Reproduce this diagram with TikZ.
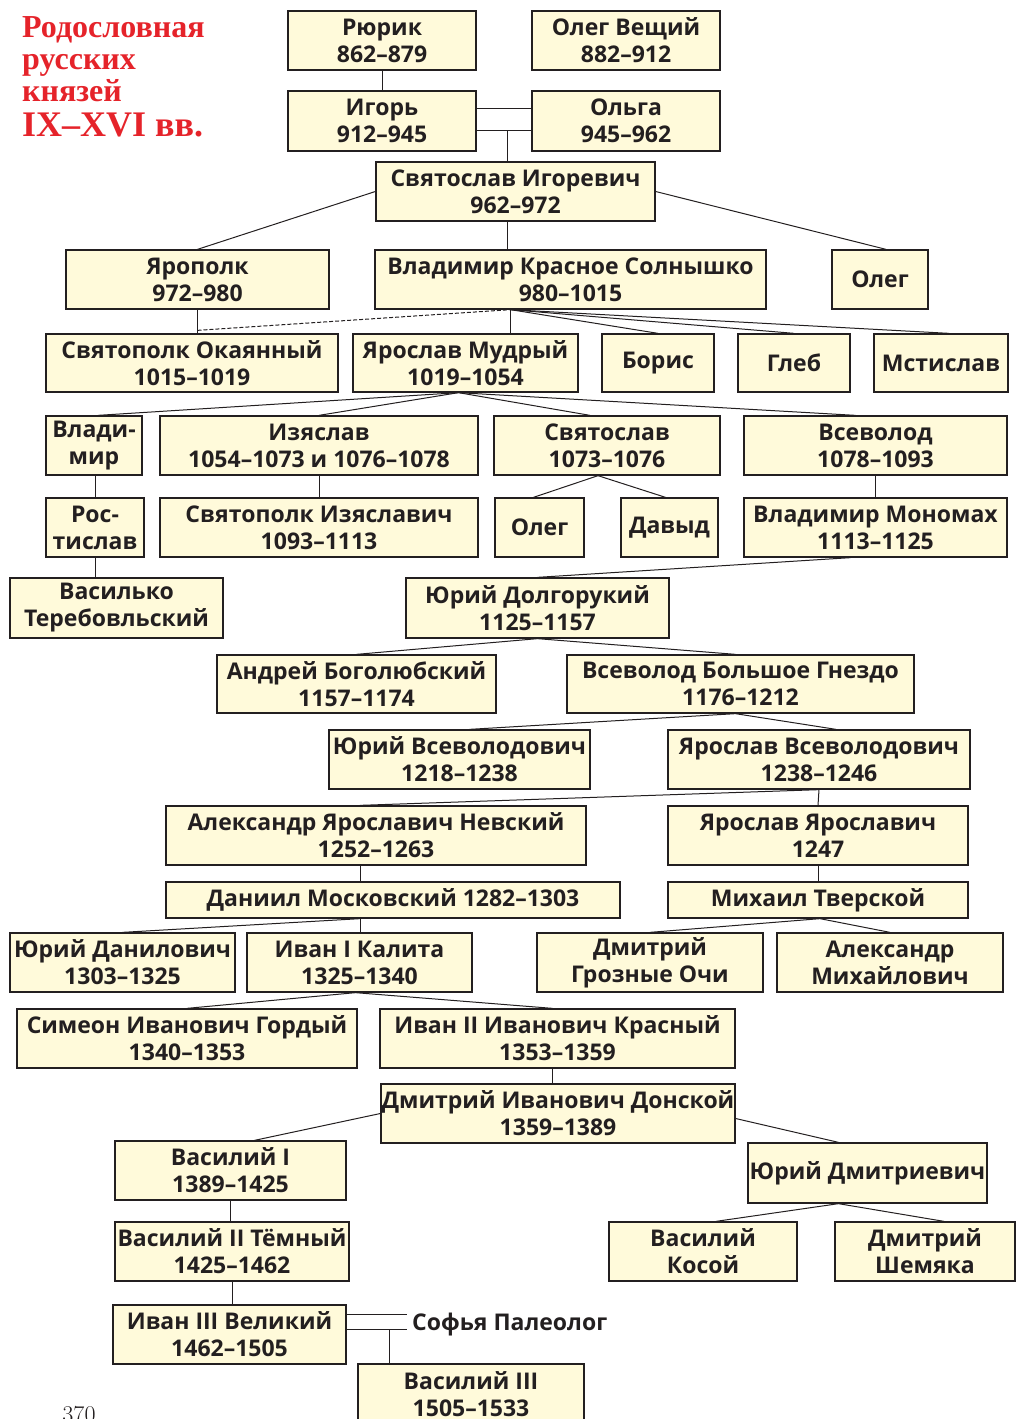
\documentclass[tikz,border=0pt]{standalone}
\usepackage{fontspec}
\setsansfont{Open Sans}
\newfontfamily\titlefont{Liberation Serif}
\usetikzlibrary{positioning,calc}

\definecolor{princefill}{RGB}{255,250,218}
\definecolor{titlered}{RGB}{229,35,42}
\definecolor{inkgray}{RGB}{35,31,32}

\begin{document}
\begin{tikzpicture}[
  x=1pt, y=-1pt,
  prince/.style={draw=inkgray, line width=1.3pt, fill=princefill, text=inkgray, align=center, inner sep=0pt,
    minimum height=59pt, font=\sffamily\bfseries\fontsize{23}{27}\selectfont},
  thin row/.style={minimum height=36pt},
  tie/.style={draw=inkgray, line width=1pt}
]
\useasboundingbox (0,0) rectangle (1016,1419);

% Title
\node[anchor=north west, align=left, text=titlered, inner sep=0pt,
  font=\titlefont\bfseries\fontsize{32}{32}\selectfont] (title) at (22,16)
  {Родословная\\русских\\князей\\[3pt]{\fontsize{36}{32}\selectfont IX–XVI вв.}};

% Rurik to Svjatoslav
\node[prince, minimum width=188pt] (rurik) at (382,40.5) {Рюрик\\862–879};
\node[prince, minimum width=188pt] (olegV) at (626,40.5) {Олег Вещий\\882–912};
\node[prince, minimum width=188pt, minimum height=60pt] (igor) at (382,121) {Игорь\\912–945};
\node[prince, minimum width=188pt, minimum height=60pt] (olga) at (626,121) {Ольга\\945–962};
\node[prince, minimum width=279pt] (svjatoslav) at (515.5,191.5) {Святослав Игоревич\\962–972};

% Sons of Svjatoslav
\node[prince, minimum width=263pt] (jaropolk) at (197.5,279.5) {Ярополк\\972–980};
\node[prince, minimum width=391pt] (vladimir) at (570.5,279.5) {Владимир Красное Солнышко\\980–1015};
\node[prince, minimum width=96pt] (olegS) at (880,279.5) {Олег};

% Sons of Vladimir
\node[prince, minimum width=292pt, minimum height=58pt] (svjatopolk) at (192,363) {Святополк Окаянный\\1015–1019};
\node[prince, minimum width=225pt, minimum height=58pt] (jaroslav) at (465.5,363) {Ярослав Мудрый\\1019–1054};
\node[prince, minimum width=112pt, minimum height=58pt] (boris) at (658,363) {Борис};
\node[prince, minimum width=112pt, minimum height=58pt] (gleb) at (794,363) {Глеб};
\node[prince, minimum width=134pt, minimum height=58pt] (mstislav) at (941,363) {Мстислав};

% Sons of Jaroslav
\node[prince, minimum width=96pt] (vladimirJ) at (94,445.5) {Влади-\\мир};
\node[prince, minimum width=318pt] (izjaslav) at (319,445.5) {Изяслав\\1054–1073 и 1076–1078};
\node[prince, minimum width=226pt] (svjatoslavJ) at (607,445.5) {Святослав\\1073–1076};
\node[prince, minimum width=263pt] (vsevolodJ) at (875.5,445.5) {Всеволод\\1078–1093};

\node[prince, minimum width=98pt] (rostislav) at (95,527.5) {Рос-\\тислав};
\node[prince, minimum width=318pt] (svjatopolkI) at (319,527.5) {Святополк Изяславич\\1093–1113};
\node[prince, minimum width=89pt] (olegSv) at (539.5,527.5) {Олег};
\node[prince, minimum width=97pt] (davyd) at (669.5,527.5) {Давыд};
\node[prince, minimum width=263pt] (monomakh) at (875.5,527.5) {Владимир Мономах\\1113–1125};

\node[prince, minimum width=213pt, minimum height=60pt] (vasilko) at (116.5,608) {Василько\\Теребовльский};
\node[prince, minimum width=263pt, minimum height=60pt] (dolgorukij) at (537.5,608) {Юрий Долгорукий\\1125–1157};

% Vladimir-Suzdal line
\node[prince, minimum width=279pt, minimum height=58pt] (andrej) at (356.5,684) {Андрей Боголюбский\\1157–1174};
\node[prince, minimum width=347pt, minimum height=58pt] (vsevolodBG) at (740.5,684) {Всеволод Большое Гнездо\\1176–1212};
\node[prince, minimum width=261pt] (jurijV) at (459.5,759.5) {Юрий Всеволодович\\1218–1238};
\node[prince, minimum width=302pt] (jaroslavV) at (819,759.5) {Ярослав Всеволодович\\1238–1246};
\node[prince, minimum width=420pt] (aleksandr) at (376,835.5) {Александр Ярославич Невский\\1252–1263};
\node[prince, minimum width=300pt] (jaroslavJ) at (818,835.5) {Ярослав Ярославич\\1247};
\node[prince, thin row, minimum width=454pt] (daniil) at (393,900) {Даниил Московский 1282–1303};
\node[prince, thin row, minimum width=300pt] (mikhail) at (818,900) {Михаил Тверской};

% Moscow and Tver
\node[prince, minimum width=225pt] (jurijD) at (122.5,962.5) {Юрий Данилович\\1303–1325};
\node[prince, minimum width=225pt] (ivan1) at (359.5,962.5) {Иван I Калита\\1325–1340};
\node[prince, minimum width=226pt] (dmitrijGO) at (650,962.5) {Дмитрий\\Грозные Очи};
\node[prince, minimum width=226pt] (aleksandrM) at (890,962.5) {Александр\\Михайлович};
\node[prince, minimum width=340pt] (simeon) at (187,1038.5) {Симеон Иванович Гордый\\1340–1353};
\node[prince, minimum width=355pt] (ivan2) at (557.5,1038.5) {Иван II Иванович Красный\\1353–1359};
\node[prince, minimum width=354pt] (donskoj) at (558,1113.5) {Дмитрий Иванович Донской\\1359–1389};

\node[prince, minimum width=231pt] (vasilij1) at (230.5,1170.5) {Василий I\\1389–1425};
\node[prince, minimum width=239pt, minimum height=60pt] (jurijDm) at (867.5,1173) {Юрий Дмитриевич};
\node[prince, minimum width=234pt] (vasilij2) at (232,1251.5) {Василий II Тёмный\\1425–1462};
\node[prince, minimum width=188pt] (kosoj) at (703,1251.5) {Василий\\Косой};
\node[prince, minimum width=180pt] (shemjaka) at (925,1251.5) {Дмитрий\\Шемяка};
\node[prince, minimum width=233pt] (ivan3) at (229.5,1334.5) {Иван III Великий\\1462–1505};
\node[anchor=west, inner sep=5pt, text=inkgray, font=\sffamily\bfseries\fontsize{23}{27}\selectfont]
  (sofia) at (407,1325) {Софья Палеолог};
\node[prince, minimum width=226pt, minimum height=60pt] (vasilij3) at (471,1394) {Василий III\\1505–1533};

% page number
\node[anchor=north, inner sep=0pt, font=\rmfamily\fontsize{24}{24}\selectfont, text=inkgray] (pagenum) at (79,1406) {370};

% Connectors
\draw[tie] (rurik) -- (igor);
\draw[tie] ([yshift=13pt]igor.east) -- ([yshift=13pt]olga.west);
\draw[tie] ([yshift=-9pt]igor.east) -- ([yshift=-9pt]olga.west);
\coordinate (wed1) at (507,130);
\draw[tie] (wed1) -- (wed1 |- svjatoslav.north);
\draw[tie] (svjatoslav.west) -- (jaropolk.north);
\draw[tie] (svjatoslav.east) -- ([xshift=6pt]olegS.north);
\draw[tie] (wed1 |- svjatoslav.south) -- (wed1 |- vladimir.north);

\coordinate (jaroB) at (jaropolk.south |- svjatopolk.north);
\coordinate (vladB) at ([xshift=-60pt]vladimir.south);
\draw[tie] (jaropolk.south) -- (jaroB);
\draw[tie, dashed, dash pattern=on 4pt off 2pt] ([yshift=3pt]jaroB) -- (vladB);
\draw[tie] (vladB) -- (vladB |- jaroslav.north);
\foreach \kid/\dx in {boris/0, gleb/0, mstislav/8}
  \draw[tie] (vladB) -- ([xshift=\dx pt]\kid.north);

\coordinate (jarB) at ([xshift=-7pt]jaroslav.south);
\foreach \kid/\dx in {vladimirJ/4, izjaslav/0, svjatoslavJ/-17, vsevolodJ/-20}
  \draw[tie] (jarB) -- ([xshift=\dx pt]\kid.north);

\draw[tie] (rostislav.north |- vladimirJ.south) -- (rostislav.north);
\draw[tie] (rostislav.south) -- (rostislav.south |- vasilko.north);
\draw[tie] (izjaslav) -- (svjatopolkI);
\draw[tie] ([xshift=-9pt]svjatoslavJ.south) -- ([xshift=-6pt]olegSv.north);
\draw[tie] ([xshift=-9pt]svjatoslavJ.south) -- ([xshift=-4pt]davyd.north);
\draw[tie] (vsevolodJ) -- (monomakh);
\draw[tie] ([xshift=-25pt]monomakh.south) -- (dolgorukij.north);

\draw[tie] (dolgorukij.south) -- (andrej.north);
\draw[tie] (dolgorukij.south) -- ([xshift=-5pt]vsevolodBG.north);
\draw[tie] ([xshift=-5pt]vsevolodBG.south) -- ([xshift=10pt]jurijV.north);
\draw[tie] ([xshift=-5pt]vsevolodBG.south) -- ([xshift=17pt]jaroslavV.north);
\draw[tie] (jaroslavV.south) -- (jaroslavJ.north);
\draw[tie] (jaroslavV.south) -- ([xshift=-16pt]aleksandr.north);
\draw[tie] ([xshift=-16pt]aleksandr.south) -- ([xshift=-33pt]daniil.north);
\draw[tie] (jaroslavJ) -- (mikhail);

\coordinate (danB) at ([xshift=-33pt]daniil.south);
\draw[tie] (danB) -- (jurijD.north);
\draw[tie] (danB) -- (danB |- ivan1.north);
\draw[tie] ([xshift=2pt]mikhail.south) -- (dmitrijGO.north);
\draw[tie] ([xshift=2pt]mikhail.south) -- (aleksandrM.north);

\draw[tie] ([xshift=-4pt]ivan1.south) -- (simeon.north);
\draw[tie] ([xshift=-4pt]ivan1.south) -- ([xshift=-5pt]ivan2.north);
\draw[tie] ([xshift=-5pt]ivan2.south) -- ([xshift=-5pt]ivan2.south |- donskoj.north);
\draw[tie] (donskoj.west) -- ([xshift=24pt]vasilij1.north);
\draw[tie] ([yshift=-5pt]donskoj.east) -- ([xshift=-29pt]jurijDm.north);

\draw[tie] (vasilij1.south) -- (vasilij1.south |- vasilij2.north);
\draw[tie] (vasilij2.south) -- (vasilij2.south |- ivan3.north);
\draw[tie] ([xshift=-29pt]jurijDm.south) -- ([xshift=13pt]kosoj.north);
\draw[tie] ([xshift=-29pt]jurijDm.south) -- ([xshift=19pt]shemjaka.north);

\coordinate (wed2a) at ([yshift=20.5pt]ivan3.east);
\coordinate (wed2b) at ([yshift=5.5pt]ivan3.east);
\coordinate (wed2) at (389,1329);
\draw[tie] (wed2a) -- (wed2a -| sofia.west);
\draw[tie] (wed2b) -- (wed2b -| sofia.west);
\draw[tie] (wed2) -- (wed2 |- vasilij3.north);
\end{tikzpicture}
\end{document}
